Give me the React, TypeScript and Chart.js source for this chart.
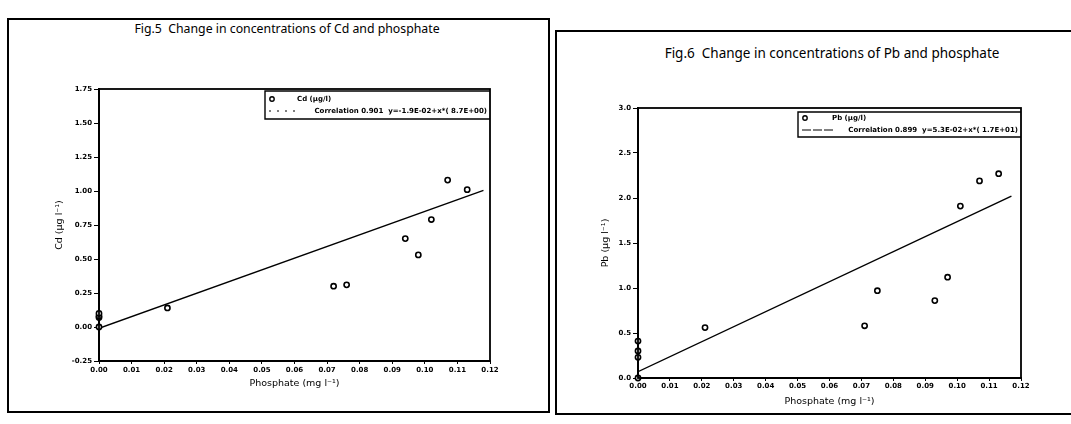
import React, { useEffect, useRef } from "react";
import { Chart, registerables } from "chart.js";

Chart.register(...registerables);

// ---------- data ----------
const xTickValues = [0, 0.01, 0.02, 0.03, 0.04, 0.05, 0.06, 0.07, 0.08, 0.09, 0.1, 0.11, 0.12];
const xTickLabels = ["0.00", "0.01", "0.02", "0.03", "0.04", "0.05", "0.06", "0.07", "0.08", "0.09", "0.10", "0.11", "0.12"];

const cdTickValues = [-0.25, 0, 0.25, 0.5, 0.75, 1.0, 1.25, 1.5, 1.75];
const cdTickLabels = ["-0.25", "0.00", "0.25", "0.50", "0.75", "1.00", "1.25", "1.50", "1.75"];

const pbTickValues = [0, 0.5, 1.0, 1.5, 2.0, 2.5, 3.0];
const pbTickLabels = ["0.0", "0.5", "1.0", "1.5", "2.0", "2.5", "3.0"];

const cdPhosphate = [0, 0, 0, 0, 0.021, 0.072, 0.076, 0.094, 0.098, 0.102, 0.107, 0.113];
const cdValues = [0.0, 0.07, 0.08, 0.1, 0.14, 0.3, 0.31, 0.65, 0.53, 0.79, 1.08, 1.01];
const cdFitX = [0, 0.118];
const cdFitY = [-0.01, 1.005];

const pbPhosphate = [0, 0, 0, 0, 0.021, 0.071, 0.075, 0.093, 0.097, 0.101, 0.107, 0.113];
const pbValues = [0.0, 0.23, 0.3, 0.41, 0.56, 0.58, 0.97, 0.86, 1.12, 1.91, 2.19, 2.27];
const pbFitX = [0, 0.117];
const pbFitY = [0.07, 2.02];

const cdTitle = "Fig.5  Change in concentrations of Cd and phosphate";
const pbTitle = "Fig.6  Change in concentrations of Pb and phosphate";
const cdSeriesLabel = "Cd (\u00b5g/l)";
const cdFitLabel = "Correlation 0.901  y=-1.9E-02+x*( 8.7E+00)";
const pbSeriesLabel = "Pb (\u00b5g/l)";
const pbFitLabel = "Correlation 0.899  y=5.3E-02+x*( 1.7E+01)";
const xAxisTitle = "Phosphate (mg l\u207b\u00b9)";
const cdAxisTitle = "Cd (\u00b5g l\u207b\u00b9)";
const pbAxisTitle = "Pb (\u00b5g l\u207b\u00b9)";

const FONT = "'DejaVu Sans', 'Noto Sans', sans-serif";

type LegendCfg = {
  width: number;
  top: number;
  height: number;
  row1: number;
  row2: number;
  textX: number;
  dash: number[];
  dashLen: number;
  seriesLabel: string;
  fitLabel: string;
};

function framePlugin() {
  return {
    id: "plotFrame",
    afterDatasetsDraw(chart: any) {
      const { ctx, chartArea: a } = chart;
      ctx.save();
      ctx.strokeStyle = "#000";
      ctx.lineWidth = 1.8;
      ctx.strokeRect(a.left, a.top, a.right - a.left, a.bottom - a.top);
      ctx.restore();
    },
  };
}

function legendPlugin(cfg: LegendCfg) {
  return {
    id: "boxLegend",
    afterDraw(chart: any) {
      const { ctx, chartArea: a } = chart;
      const L = a.right - cfg.width;
      const T = a.top + cfg.top;
      const B = T + cfg.height;
      ctx.save();
      ctx.strokeStyle = "#000";
      ctx.lineWidth = 1.4;
      ctx.beginPath();
      ctx.moveTo(a.right, T);
      ctx.lineTo(L, T);
      ctx.lineTo(L, B);
      ctx.lineTo(a.right, B);
      ctx.stroke();
      // marker
      ctx.beginPath();
      ctx.arc(L + 7, T + cfg.row1, 2.2, 0, Math.PI * 2);
      ctx.fillStyle = "#fff";
      ctx.fill();
      ctx.lineWidth = 1.4;
      ctx.stroke();
      // texts
      ctx.fillStyle = "#000";
      ctx.font = `bold 7px ${FONT}`;
      ctx.textBaseline = "middle";
      ctx.textAlign = "left";
      ctx.fillText(cfg.seriesLabel, L + cfg.textX, T + cfg.row1);
      ctx.lineWidth = 1;
      ctx.setLineDash(cfg.dash);
      ctx.beginPath();
      ctx.moveTo(L + 4, T + cfg.row2);
      ctx.lineTo(L + cfg.dashLen, T + cfg.row2);
      ctx.stroke();
      ctx.setLineDash([]);
      ctx.textAlign = "right";
      ctx.fillText(cfg.fitLabel, a.right - 3, T + cfg.row2);
      ctx.restore();
    },
  };
}

type ChartProps = {
  left: number;
  top: number;
  width: number;
  height: number;
  padTop: number;
  padRight: number;
  yWidth: number;
  xHeight: number;
  yMin: number;
  yMax: number;
  yTickValues: number[];
  yTickLabels: string[];
  yTitle: string;
  xs: number[];
  ys: number[];
  fitX: number[];
  fitY: number[];
  seriesLabel: string;
  fitLabel: string;
  legend: LegendCfg;
  xTickLen: number;
  xTickPad: number;
};

function ScatterPanel(p: ChartProps) {
  const ref = useRef<HTMLCanvasElement | null>(null);
  useEffect(() => {
    if (!ref.current) return;
    const tickFont = { family: FONT, size: 7, weight: "bold" as const };
    const chart = new Chart(ref.current, {
      type: "scatter",
      data: {
        datasets: [
          {
            label: p.seriesLabel,
            data: p.xs.map((x, i) => ({ x, y: p.ys[i] })),
            pointStyle: "circle",
            pointRadius: 2.6,
            pointBorderWidth: 1.6,
            borderColor: "#000",
            backgroundColor: "#fff",
            showLine: false,
            clip: false as any,
            order: 1,
          },
          {
            label: p.fitLabel,
            data: p.fitX.map((x, i) => ({ x, y: p.fitY[i] })),
            showLine: true,
            pointRadius: 0,
            borderColor: "#000",
            borderWidth: 1.4,
            backgroundColor: "#000",
            order: 2,
          },
        ],
      },
      options: {
        responsive: false,
        animation: false,
        events: [],
        layout: { padding: { top: p.padTop, right: p.padRight, left: 0, bottom: 0 } },
        plugins: { legend: { display: false }, tooltip: { enabled: false } },
        scales: {
          x: {
            type: "linear",
            min: 0,
            max: 0.12,
            afterBuildTicks: (scale: any) => {
              scale.ticks = xTickValues.map((v) => ({ value: v }));
            },
            afterFit: (scale: any) => {
              scale.height = p.xHeight;
            },
            ticks: {
              callback: (_v: any, i: number) => xTickLabels[i],
              font: tickFont,
              color: "#000",
              maxRotation: 0,
              autoSkip: false,
              padding: p.xTickPad,
            },
            grid: { drawOnChartArea: false, drawTicks: true, tickLength: p.xTickLen, color: "#000", lineWidth: 1 },
            border: { display: true, color: "#000", width: 2 },
            title: {
              display: true,
              text: xAxisTitle,
              color: "#000",
              font: { family: FONT, size: 9.5 },
              padding: { top: 0, bottom: 4 },
            },
          },
          y: {
            type: "linear",
            min: p.yMin,
            max: p.yMax,
            afterBuildTicks: (scale: any) => {
              scale.ticks = p.yTickValues.map((v) => ({ value: v }));
            },
            afterFit: (scale: any) => {
              scale.width = p.yWidth;
            },
            ticks: {
              callback: (_v: any, i: number) => p.yTickLabels[i],
              font: tickFont,
              color: "#000",
              autoSkip: false,
              padding: 2,
            },
            grid: { drawOnChartArea: false, drawTicks: true, tickLength: 5, color: "#000", lineWidth: 1 },
            border: { display: true, color: "#000", width: 2 },
            title: {
              display: true,
              text: p.yTitle,
              color: "#000",
              font: { family: FONT, size: 9.5 },
              padding: { top: 4, bottom: 0 },
            },
          },
        },
      },
      plugins: [framePlugin(), legendPlugin(p.legend)],
    });
    return () => chart.destroy();
  }, []);
  return (
    <canvas
      ref={ref}
      width={p.width}
      height={p.height}
      style={{ position: "absolute", left: p.left, top: p.top, width: p.width, height: p.height }}
    />
  );
}

const titleStyle = (cx: number, cy: number, size: number): React.CSSProperties => ({
  position: "absolute",
  left: cx - 250,
  top: cy - 9,
  width: 500,
  lineHeight: "18px",
  textAlign: "center",
  fontFamily: "'Noto Sans', sans-serif",
  fontSize: size,
  color: "#000",
  whiteSpace: "pre",
});

export default function App() {
  return (
    <div
      style={{
        position: "fixed",
        left: 0,
        top: 0,
        width: 1071,
        height: 424,
        overflow: "hidden",
        background: "#fff",
      }}
    >
      {/* panel frames */}
      <div
        style={{
          position: "absolute",
          left: 7,
          top: 18,
          width: 539,
          height: 391,
          border: "2px solid #000",
        }}
      />
      <div
        style={{
          position: "absolute",
          left: 555,
          top: 30,
          width: 560,
          height: 381,
          border: "2px solid #000",
        }}
      />
      <div style={titleStyle(287, 29, 12.3)}>{cdTitle}</div>
      <div style={titleStyle(832, 53, 13.5)}>{pbTitle}</div>

      <ScatterPanel
        left={50}
        top={80}
        width={460}
        height={313}
        padTop={9}
        padRight={20}
        yWidth={49}
        xHeight={32}
        yMin={-0.25}
        yMax={1.75}
        yTickValues={cdTickValues}
        yTickLabels={cdTickLabels}
        yTitle={cdAxisTitle}
        xs={cdPhosphate}
        ys={cdValues}
        fitX={cdFitX}
        fitY={cdFitY}
        seriesLabel={cdSeriesLabel}
        fitLabel={cdFitLabel}
        xTickLen={3}
        xTickPad={2}
        legend={{
          width: 225,
          top: 2,
          height: 28,
          row1: 8,
          row2: 20,
          textX: 32,
          dash: [2, 6],
          dashLen: 34,
          seriesLabel: cdSeriesLabel,
          fitLabel: cdFitLabel,
        }}
      />
      <ScatterPanel
        left={596}
        top={98}
        width={445}
        height={313}
        padTop={10}
        padRight={20}
        yWidth={42}
        xHeight={33}
        yMin={0}
        yMax={3}
        yTickValues={pbTickValues}
        yTickLabels={pbTickLabels}
        yTitle={pbAxisTitle}
        xs={pbPhosphate}
        ys={pbValues}
        fitX={pbFitX}
        fitY={pbFitY}
        seriesLabel={pbSeriesLabel}
        fitLabel={pbFitLabel}
        xTickLen={3}
        xTickPad={1}
        legend={{
          width: 223,
          top: 4,
          height: 25,
          row1: 6,
          row2: 18,
          textX: 34,
          dash: [9, 2],
          dashLen: 36,
          seriesLabel: pbSeriesLabel,
          fitLabel: pbFitLabel,
        }}
      />
    </div>
  );
}
